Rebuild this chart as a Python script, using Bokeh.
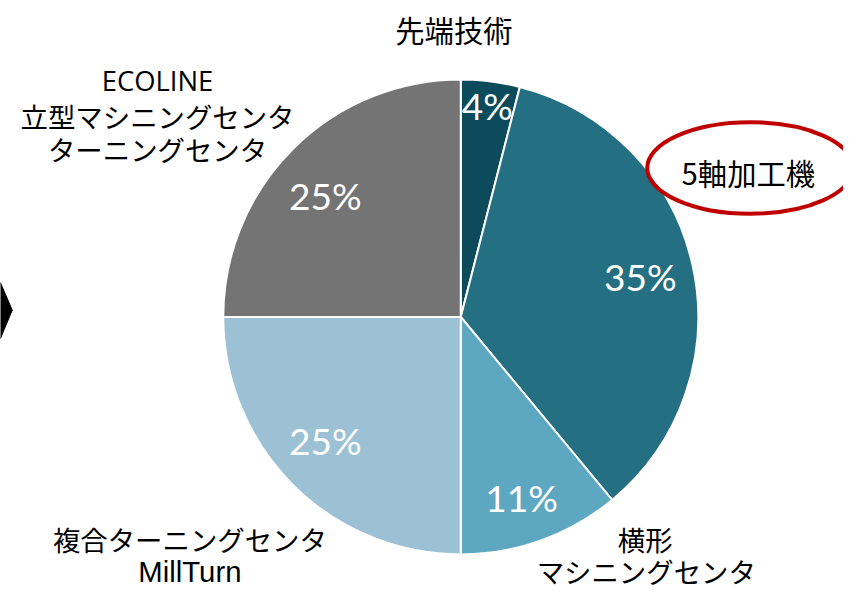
import math
from bokeh.plotting import figure
from bokeh.models import Range1d, ColumnDataSource
from bokeh.core.properties import value
from bokeh.embed import file_html
from bokeh.resources import INLINE

# ---- data ----
categories = ["先端技術", "5軸加工機", "横形マシニングセンタ", "複合ターニングセンタ MillTurn",
              "ECOLINE 立型マシニングセンタ ターニングセンタ"]
shares = [4, 35, 11, 25, 25]
pct_labels = ["4%", "35%", "11%", "25%", "25%"]
colors = ["#0c4b5b", "#246f81", "#5ea7c1", "#9cc0d4", "#747474"]

# ---- layout (coordinates of the 859x608 picture, y measured from top) ----
W, H = 859, 608
cx, cy, R = 469, 325, 242
pct_pos = [(496, 108), (652, 283), (531, 510), (331, 452), (331, 200)]
outer_lines = [
    [("先端技術", 462, 29, 30)],
    [("5軸加工機", 762, 176, 30)],
    [("横形", 657, 553, 28), ("マシニングセンタ", 658, 586, 28)],
    [("複合ターニングセンタ", 193, 553, 28), ("MillTurn", 193, 586, 30)],
    [("ECOLINE", 160, 82, 28), ("立型マシニングセンタ", 160, 119, 28), ("ターニングセンタ", 160, 152, 28)],
]
S = 0.978  # page is 843x592, reference is 859x608


def Y(py):
    return H - py


p = figure(width=843, height=592, output_backend="svg", toolbar_location=None,
           x_range=Range1d(0, W), y_range=Range1d(0, H), min_border=0)
p.axis.visible = False
p.grid.visible = False
p.outline_line_color = None
p.background_fill_color = "white"

total = float(sum(shares))
starts, ends = [], []
cum = 0.0
for s in shares:
    a0 = math.pi / 2 - 2 * math.pi * (cum + s) / total
    a1 = math.pi / 2 - 2 * math.pi * cum / total
    starts.append(a0)
    ends.append(a1)
    cum += s

src = ColumnDataSource(dict(x=[cx] * len(shares), y=[Y(cy)] * len(shares),
                            start=starts, end=ends, color=colors))
p.wedge(x="x", y="y", radius=R, start_angle="start", end_angle="end",
        fill_color="color", line_color="white", line_width=2, source=src)

# percent labels
p.text(x=[q[0] for q in pct_pos], y=[Y(q[1]) for q in pct_pos], text=pct_labels,
       text_color="white", text_font=value("Lato"), text_font_size="37px",
       text_align="center", text_baseline="middle")

# outer labels
for lines in outer_lines:
    for t, x, y, fs in lines:
        latin = all(ord(c) < 128 for c in t)
        font = "Liberation Sans" if t == "MillTurn" else ("Open Sans" if latin else "Noto Sans CJK JP")
        p.text(x=[x], y=[Y(y)], text=[t], text_color="black", text_font=value(font),
               text_font_size=f"{fs * S:.1f}px", text_align="center", text_baseline="middle")

# red ellipse highlight
p.ellipse(x=[764], y=[Y(172)], width=210, height=94, fill_color=None,
          line_color="#c00000", line_width=4)

# black chevron at left edge
p.patch(x=[-20, 0, 12, 0, -20], y=[Y(290), Y(290), Y(318), Y(347), Y(347)],
        fill_color="black", line_color="black")

open("out.html", "w").write(file_html(p, INLINE))
